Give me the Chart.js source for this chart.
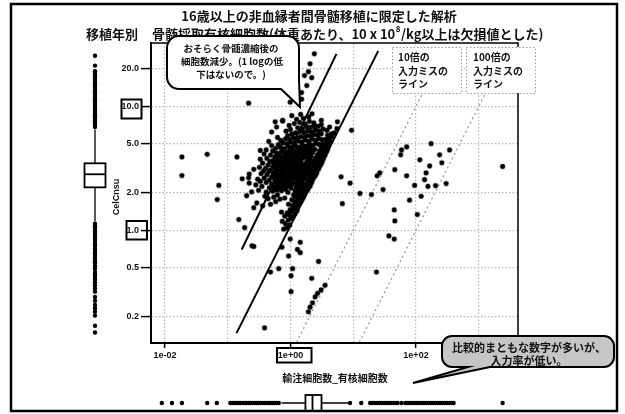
<!DOCTYPE html>
<html>
<head>
<meta charset="utf-8">
<script src="https://cdn.jsdelivr.net/npm/chart.js@4/dist/chart.umd.min.js"></script>
<style>
  html, body { margin: 0; padding: 0; background: #fff; }
  canvas { display: block; }
</style>
</head>
<body>
<canvas id="c" width="625" height="414"></canvas>
<script>
// ---- axis ticks ----
const yTickValues = [20, 10, 5, 2, 1, 0.5, 0.2];
const yTickLabels = ['20.0', '10.0', '5.0', '2.0', '1.0', '0.5', '0.2'];
const xGridValues = [0.01, 0.1, 1, 10, 100, 1000];
const xTickLabels = ['1e-02', '', '1e+00', '', '1e+02', ''];

// ---- 輸注細胞数 (x) vs 採取細胞数 (y), one pair per transplant ----
const cellPairs = [
  // outlying cases
  [0.0186,3.9],[0.0186,2.76],[0.047,4.1],[0.14,3.9],[0.072,2.3],[0.068,1.77],[0.215,10.6],
  [2.4,26.5],[2.05,22],[1.93,19],[1.67,17.7],[2.18,17],[1.82,14.7],[1.5,12.9],[1.16,12.3],
  [0.99,10.8],[1.5,11.4],[0.75,7.7],[0.57,7.5],[3.1,7.7],[5.6,7.5],[9.4,6.4],[6.4,2.7],
  [8.9,2.4],[12.8,1.98],[19.5,1.94],[6.7,1.64],[29.9,2.13],[26.4,2.9],[24,2.75],[45.9,3.08],
  [58.8,4.44],[57,4.06],[71,4.7],[71,2.75],[115,3.7],[174,5.0],[238,4.06],[343,4.44],
  [258,3.5],[165,3.3],[145,2.9],[137,2.56],[95,2.3],[155,2.26],[205,2.29],[302,2.38],
  [121,1.88],[79,1.75],[105,1.34],[45,1.46],[46,1.19],[37,0.9],[45,0.85],[23.4,0.46],
  [2400,3.27],[2.8,0.56],[1.02,0.43],[1.02,0.32],[2.18,0.41],[3.55,0.36],[3.07,0.33],
  [2.7,0.31],[2.47,0.29],[2.24,0.26],[2.05,0.24],[1.93,0.22],[0.386,0.163],[0.243,0.75],
  [0.186,1.05],[0.15,1.22],[0.73,0.73],[0.99,0.85],[1.43,0.66],[0.93,0.62],[1.08,0.49],
  [0.65,0.49],[0.48,0.46],[0.215,2.65],[0.26,0.74],[1.29,0.70],[1.43,0.80],
  // y 1.0 - 1.5
  [0.78,1.02],[0.88,1.05],[0.83,1.13],[0.97,1.1],[0.74,1.18],[0.92,1.21],[1.02,1.24],[0.81,1.3],
  [0.96,1.33],[1.1,1.29],[0.89,1.38],[1.05,1.42],[1.18,1.36],[1.27,1.44],[0.72,1.4],[0.99,1.47],[1.14,1.5],
  // y 1.5 - 2.0
  [1.22,1.55],[1.08,1.58],[1.33,1.6],[0.93,1.62],[1.4,1.66],[1.17,1.68],[1.28,1.73],[1.48,1.72],
  [1.05,1.76],[1.36,1.79],[1.55,1.8],[1.2,1.84],[1.62,1.86],[1.43,1.9],[1.12,1.93],[1.3,1.96],
  [1.68,1.95],[0.48,1.62],[0.36,1.57],[0.58,1.7],[0.29,1.66],[0.44,1.8],[0.54,1.85],[0.68,1.78],
  [0.39,1.88],[0.81,1.82],[0.62,1.93],[0.26,1.52],[0.2,1.9],
  // y 2.0 - 2.5
  [1.5,2.02],[1.74,2.05],[1.33,2.04],[1.86,2.1],[1.18,2.08],[0.91,2.02],[1.58,2.13],[1.4,2.17],
  [1.95,2.2],[1.23,2.22],[1.02,2.19],[1.66,2.26],[1.46,2.3],[2.06,2.28],[1.3,2.33],[1.79,2.36],
  [1.56,2.4],[2.17,2.42],[1.37,2.45],[1.9,2.48],[0.41,2.03],[0.52,2.06],[0.61,2.11],[0.72,2.08],
  [0.82,2.14],[0.31,2.1],[0.24,2.04],[0.46,2.2],[0.56,2.24],[0.66,2.18],[0.76,2.27],[0.87,2.23],
  [0.35,2.26],[0.28,2.32],[0.5,2.36],[0.6,2.41],[0.7,2.38],[0.8,2.44],[0.92,2.4],[1.0,2.47],
  [0.41,2.43],[0.33,2.48],[0.22,2.4],[0.17,2.6],
  // y 2.5 - 3.0
  [1.95,2.52],[2.24,2.55],[1.62,2.58],[2.05,2.63],[2.36,2.66],[1.72,2.69],[1.45,2.64],[2.15,2.74],
  [2.5,2.77],[1.84,2.8],[1.52,2.84],[2.3,2.88],[2.62,2.9],[1.98,2.94],[1.6,2.97],[0.46,2.54],
  [0.56,2.57],[0.64,2.6],[0.74,2.55],[0.85,2.62],[0.95,2.58],[1.1,2.6],[1.24,2.67],[0.38,2.63],
  [0.3,2.58],[0.5,2.7],[0.6,2.74],[0.69,2.69],[0.79,2.77],[0.9,2.72],[1.02,2.79],[1.18,2.76],
  [1.33,2.83],[0.42,2.8],[0.34,2.86],[0.22,2.84],[0.53,2.9],[0.63,2.95],[0.73,2.88],[0.84,2.96],
  [0.97,2.91],[1.12,2.99],[1.27,2.93],[0.45,2.98],[0.37,3.0],
  // y 3.0 - 3.6
  [2.1,3.03],[2.42,3.06],[2.78,3.1],[1.75,3.08],[2.22,3.17],[2.55,3.2],[1.9,3.22],[2.9,3.26],
  [2.35,3.3],[2.68,3.35],[2.02,3.38],[3.05,3.4],[2.5,3.45],[2.84,3.5],[2.18,3.52],[3.2,3.56],
  [0.48,3.05],[0.58,3.09],[0.67,3.04],[0.77,3.12],[0.88,3.07],[1.0,3.15],[1.15,3.1],[1.3,3.18],
  [1.45,3.13],[1.6,3.2],[0.4,3.16],[0.32,3.22],[0.26,3.1],[0.52,3.25],[0.62,3.3],[0.72,3.24],
  [0.82,3.33],[0.94,3.28],[1.07,3.36],[1.22,3.31],[1.38,3.39],[1.54,3.34],[1.7,3.42],[0.44,3.36],
  [0.55,3.46],[0.65,3.41],[0.76,3.5],[0.87,3.44],[0.99,3.53],[1.13,3.48],[1.29,3.56],[1.46,3.51],
  [1.82,3.58],[0.36,3.48],[0.47,3.57],
  // y 3.6 - 4.5
  [2.35,3.62],[2.65,3.68],[3.0,3.72],[3.35,3.78],[2.5,3.84],[2.85,3.9],[3.2,3.95],[3.55,4.02],
  [2.7,4.08],[3.05,4.15],[3.4,4.22],[3.75,4.3],[2.9,4.36],[3.3,4.42],[3.9,4.5],[0.52,3.64],
  [0.61,3.7],[0.71,3.66],[0.8,3.75],[0.91,3.68],[1.03,3.8],[1.17,3.73],[1.33,3.84],[1.5,3.77],
  [1.68,3.88],[1.9,3.82],[2.1,3.93],[0.42,3.8],[0.33,3.74],[0.56,3.9],[0.66,3.97],[0.77,3.92],
  [0.87,4.02],[0.98,3.96],[1.11,4.07],[1.25,4.0],[1.41,4.12],[1.58,4.05],[1.78,4.17],[2.0,4.1],
  [2.25,4.22],[0.48,4.04],[0.38,4.12],[0.6,4.18],[0.71,4.27],[0.82,4.21],[0.94,4.33],[1.06,4.26],
  [1.2,4.38],[1.36,4.3],[1.53,4.44],[1.72,4.36],[1.94,4.48],[2.18,4.4],[2.45,4.5],[0.52,4.36],
  [0.41,4.45],[0.33,4.4],
  // y 4.5 - 6.0
  [3.1,4.6],[3.55,4.72],[4.0,4.85],[3.3,4.95],[3.8,5.1],[4.3,5.25],[3.6,5.4],[4.1,5.55],
  [4.6,5.7],[3.9,5.85],[0.58,4.58],[0.69,4.66],[0.8,4.55],[0.92,4.74],[1.05,4.62],[1.2,4.8],
  [1.37,4.68],[1.55,4.88],[1.76,4.76],[2.0,4.96],[2.26,4.84],[2.55,5.02],[2.85,4.92],[0.64,4.9],
  [0.5,4.82],[0.75,5.05],[0.87,4.98],[1.0,5.15],[1.15,5.07],[1.32,5.25],[1.5,5.14],[1.7,5.33],
  [1.94,5.22],[2.2,5.42],[2.5,5.3],[2.8,5.5],[3.15,5.38],[0.7,5.3],[0.83,5.46],[0.97,5.38],
  [1.1,5.58],[1.27,5.5],[1.45,5.7],[1.66,5.62],[1.88,5.8],[2.14,5.72],[2.42,5.92],[2.75,5.84],
  [3.1,6.0],[0.62,5.6],[0.9,5.8],[1.05,5.95],
  // y 6.0 - 9.0
  [1.2,6.1],[1.42,6.25],[1.64,6.12],[1.88,6.35],[2.15,6.2],[2.48,6.45],[2.85,6.3],[3.3,6.55],
  [3.8,6.4],[0.85,6.3],[1.0,6.5],[1.3,6.7],[1.55,6.6],[1.8,6.85],[2.1,6.75],[2.4,7.0],
  [2.75,6.9],[3.1,7.1],[0.95,7.0],[1.15,7.25],[1.4,7.4],[1.7,7.2],[2.0,7.55],[2.35,7.35],
  [0.75,7.6],[1.25,7.85],[1.6,8.0],[1.95,8.2],[1.05,8.4],[1.45,8.6],[2.2,8.7],[0.6,6.8],
  [0.5,6.2],[0.45,5.2],[4.5,6.0],[4.2,6.8],[5.0,6.1],[5.5,6.6],
  // dense core
  [0.53,2.15],[0.63,2.29],[0.73,2.21],[0.84,2.33],[0.95,2.28],[1.08,2.36],[1.2,2.41],[0.57,2.5],
  [0.68,2.47],[0.78,2.64],[0.88,2.51],[1.0,2.68],[1.15,2.7],[1.3,2.55],[0.55,2.82],[0.66,2.86],
  [0.77,2.99],[0.91,3.0],[1.05,2.86],[1.2,2.9],[1.38,2.98],[0.6,3.18],[0.7,3.37],[0.8,3.2],
  [0.92,3.42],[1.04,3.22],[1.18,3.42],[1.35,3.25],[0.63,3.57],[0.74,3.8],[0.85,3.6],[0.96,3.85],
  [1.1,3.6],[1.27,3.95],[1.45,3.65],[1.62,3.98],[0.66,4.1],[0.77,4.45],[0.9,4.15],[1.02,4.5],
  [1.16,4.18],[1.31,4.55],[1.47,4.2],[1.65,4.6],[1.85,4.25],[2.05,4.65],[1.62,3.02],[1.76,3.3],
  [1.93,3.55],[2.08,3.7],[1.55,2.62],[1.7,2.9],[1.85,3.12]
];

// ---- reference lines (x, y end points) ----
const lineLoss = [[0.167, 0.70], [5.4, 26.5]];     // 採取後の細胞数減少
const lineEqual = [[0.138, 0.148], [25, 28]];      // 輸注 = 採取
const line10x = [[1.25, 0.125], [128, 12.8]];      // 10倍の入力ミス
const line100x = [[12.5, 0.125], [1280, 12.8]];    // 100倍の入力ミス

// ---- marginal box plots: [lower whisker, Q1, median, Q3, upper whisker] ----
const yBox = [1.18, 2.22, 2.83, 3.47, 6.5];
const yOutliers = [6.8, 7.1, 7.4, 7.7, 8.0, 8.3, 8.6, 9.0, 9.3, 9.7, 10.1, 10.5, 10.9, 11.4,
  11.9, 12.4, 12.9, 13.5, 14.1, 14.7, 15.3, 16.0, 16.7, 17.5, 18.3, 19.2, 21.3, 25.6,
  1.13, 1.08, 1.03, 0.98, 0.94, 0.9, 0.86, 0.82, 0.78, 0.75, 0.71, 0.68, 0.65, 0.62, 0.59,
  0.56, 0.54, 0.51, 0.49, 0.46, 0.44, 0.42, 0.40, 0.38, 0.36, 0.34, 0.32, 0.29, 0.27,
  0.25, 0.235, 0.22, 0.205, 0.17, 0.15];
const xBox = [0.72, 1.73, 2.24, 3.12, 8.4];
const xOutliers = [0.0089, 0.0129, 0.0186, 0.047, 0.067,
  0.11, 0.12, 0.13, 0.14, 0.15, 0.16, 0.175, 0.19, 0.2, 0.215, 0.23, 0.25, 0.27, 0.29, 0.31,
  0.33, 0.36, 0.39, 0.42, 0.45, 0.48, 0.52, 0.56, 0.6, 0.65,
  8.9, 13.4, 18.6, 20, 22, 24, 26, 28, 31, 34, 37, 40, 44, 48, 51, 59,
  68, 74, 80, 87, 95, 103, 112, 122, 133, 145, 158, 172, 187, 204, 222, 242, 263, 287,
  312, 340, 370, 398, 2400];

const LATIN = '"Liberation Sans", "Noto Sans CJK JP", sans-serif';
const JP = '"Noto Sans CJK JP", "Liberation Sans", sans-serif';

const toXY = arr => arr.map(([x, y]) => ({ x, y }));

function roundedBubble(ctx, pts) {
  ctx.beginPath();
  ctx.moveTo(pts[0][0], pts[0][1]);
  for (let i = 1; i < pts.length; i++) {
    const p = pts[i];
    if (p.length === 5) ctx.arcTo(p[0], p[1], p[2], p[3], p[4]);
    else ctx.lineTo(p[0], p[1]);
  }
  ctx.closePath();
}

const decor = {
  id: 'decor',
  beforeDraw(chart) {
    const ctx = chart.ctx;
    ctx.save();
    ctx.fillStyle = '#fff';
    ctx.fillRect(0, 0, chart.width, chart.height);
    ctx.restore();
  },
  afterDraw(chart) {
    const ctx = chart.ctx;
    const xs = chart.scales.x, ys = chart.scales.y;
    const a = chart.chartArea;
    ctx.save();

    // plot frame
    ctx.strokeStyle = '#000';
    ctx.lineWidth = 1.5;
    ctx.strokeRect(a.left, a.top, a.right - a.left, a.bottom - a.top);

    // left box plot (y distribution)
    const cx = 95, hw = 10.5;
    const py = v => ys.getPixelForValue(v);
    ctx.strokeStyle = '#000';
    ctx.lineWidth = 1.3;
    ctx.beginPath();
    ctx.moveTo(cx, py(yBox[0])); ctx.lineTo(cx, py(yBox[1]));
    ctx.moveTo(cx, py(yBox[3])); ctx.lineTo(cx, py(yBox[4]));
    ctx.stroke();
    ctx.fillStyle = '#fff';
    ctx.lineWidth = 1.8;
    ctx.fillRect(cx - hw, py(yBox[3]), 2 * hw, py(yBox[1]) - py(yBox[3]));
    ctx.strokeRect(cx - hw, py(yBox[3]), 2 * hw, py(yBox[1]) - py(yBox[3]));
    ctx.beginPath();
    ctx.moveTo(cx - hw, py(yBox[2])); ctx.lineTo(cx + hw, py(yBox[2]));
    ctx.stroke();
    ctx.fillStyle = '#000';
    yOutliers.forEach(v => { ctx.beginPath(); ctx.arc(cx, py(v), 2.2, 0, Math.PI * 2); ctx.fill(); });

    // bottom box plot (x distribution)
    const cy = 403, hh = 8;
    const px = v => xs.getPixelForValue(v);
    ctx.lineWidth = 1.3;
    ctx.beginPath();
    ctx.moveTo(px(xBox[0]), cy); ctx.lineTo(px(xBox[1]), cy);
    ctx.moveTo(px(xBox[3]), cy); ctx.lineTo(px(xBox[4]), cy);
    ctx.stroke();
    ctx.fillStyle = '#fff';
    ctx.lineWidth = 1.8;
    ctx.fillRect(px(xBox[1]), cy - hh, px(xBox[3]) - px(xBox[1]), 2 * hh);
    ctx.strokeRect(px(xBox[1]), cy - hh, px(xBox[3]) - px(xBox[1]), 2 * hh);
    ctx.beginPath();
    ctx.moveTo(px(xBox[2]), cy - hh); ctx.lineTo(px(xBox[2]), cy + hh);
    ctx.stroke();
    ctx.fillStyle = '#000';
    xOutliers.forEach(v => { ctx.beginPath(); ctx.arc(px(v), cy, 2.2, 0, Math.PI * 2); ctx.fill(); });

    // titles
    ctx.fillStyle = '#111';
    ctx.textBaseline = 'middle';
    ctx.textAlign = 'center';
    ctx.font = 'bold 13px ' + JP;
    ctx.fillText('16歳以上の非血縁者間骨髄移植に限定した解析', 319, 16);
    ctx.textAlign = 'left';
    ctx.fillText('移植年別', 86, 34);
    let tx = 152;
    const part1 = '骨髄採取有核細胞数(体重あたり、10 x 10';
    ctx.fillText(part1, tx, 34);
    tx += ctx.measureText(part1).width;
    ctx.font = 'bold 8px ' + JP;
    ctx.fillText('8', tx + 0.5, 29);
    tx += ctx.measureText('8').width + 1;
    ctx.font = 'bold 13px ' + JP;
    ctx.fillText('/kg以上は欠損値とした)', tx, 34);

    // axis titles
    ctx.font = 'bold 10px ' + JP;
    ctx.textAlign = 'center';
    ctx.fillText('輸注細胞数_有核細胞数', 335, 378);
    ctx.save();
    ctx.translate(117, 197);
    ctx.rotate(-Math.PI / 2);
    ctx.font = 'bold 9px ' + LATIN;
    ctx.fillText('CelCnsu', 0, 0);
    ctx.restore();

    // highlight frames round tick labels
    ctx.strokeStyle = '#000';
    ctx.lineWidth = 2;
    ctx.strokeRect(121.5, 99.5, 20, 19);
    ctx.strokeRect(126.5, 221, 20.5, 18.5);
    ctx.strokeRect(277, 348, 34.5, 14.5);

    // note bubble (upper left)
    ctx.fillStyle = '#fff';
    ctx.lineWidth = 2;
    roundedBubble(ctx, [
      [179, 36], [287, 36], [299, 36, 299, 48, 12], [299, 80], [300, 107], [281, 89],
      [179, 89], [167, 89, 167, 77, 12], [167, 48], [167, 36, 179, 36, 12]
    ]);
    ctx.fill(); ctx.stroke();
    ctx.fillStyle = '#111';
    ctx.font = 'bold 9.5px ' + JP;
    ctx.textAlign = 'center';
    ctx.fillText('おそらく骨髄濃縮後の', 231, 48);
    ctx.fillText('細胞数減少。(1 logの低', 232, 61);
    ctx.fillText('下はないので。)', 231, 74);

    // line captions
    ctx.setLineDash([1.5, 2]);
    ctx.strokeStyle = '#9a9a9a';
    ctx.lineWidth = 1;
    ctx.fillStyle = '#fff';
    [392, 466].forEach(bx => {
      ctx.fillRect(bx, 47, 69, 46);
      ctx.strokeRect(bx + 0.5, 47.5, 69, 46);
    });
    ctx.setLineDash([]);
    ctx.fillStyle = '#111';
    ctx.font = 'bold 10px ' + JP;
    ctx.textAlign = 'left';
    [[398, '10倍の'], [473, '100倍の']].forEach(([bx, first]) => {
      ctx.fillText(first, bx, 57);
      ctx.fillText('入力ミスの', bx, 71);
      ctx.fillText('ライン', bx, 84);
    });

    // note bubble (lower right)
    ctx.fillStyle = '#c6c6c6';
    ctx.strokeStyle = '#000';
    ctx.lineWidth = 2;
    roundedBubble(ctx, [
      [452, 336], [604, 336], [614, 336, 614, 346, 10], [614, 357], [614, 367, 604, 367, 10],
      [490, 367], [413, 383], [468, 367], [452, 367], [442, 367, 442, 357, 10], [442, 346],
      [442, 336, 452, 336, 10]
    ]);
    ctx.fill(); ctx.stroke();
    ctx.fillStyle = '#111';
    ctx.font = 'bold 11px ' + JP;
    ctx.textAlign = 'center';
    ctx.fillText('比較的まともな数字が多いが、', 529, 348);
    ctx.fillText('入力率が低い。', 529, 361);

    // outer frame
    ctx.lineWidth = 2.5;
    ctx.strokeStyle = '#000';
    ctx.strokeRect(11, 4, 606, 407);
    ctx.restore();
  }
};

new Chart(document.getElementById('c'), {
  type: 'scatter',
  data: {
    datasets: [
      { label: '10倍', data: toXY(line10x), showLine: true, borderColor: '#9a9a9a', borderWidth: 1.3,
        borderDash: [2, 3], pointRadius: 0, order: 3 },
      { label: '100倍', data: toXY(line100x), showLine: true, borderColor: '#9a9a9a', borderWidth: 1.3,
        borderDash: [2, 3], pointRadius: 0, order: 3 },
      { label: 'CelCnsu', data: toXY(cellPairs), pointRadius: 2.4, pointBackgroundColor: '#000',
        pointBorderColor: 'rgba(0,0,0,0.28)', pointBorderWidth: 1.4, order: 2 },
      { label: 'loss', data: toXY(lineLoss), showLine: true, borderColor: '#000', borderWidth: 2,
        pointRadius: 0, order: 1 },
      { label: 'equal', data: toXY(lineEqual), showLine: true, borderColor: '#000', borderWidth: 2,
        pointRadius: 0, order: 1 }
    ]
  },
  options: {
    responsive: false,
    animation: false,
    devicePixelRatio: 1,
    events: [],
    layout: { padding: { left: 0, top: 43, right: 107, bottom: 0 } },
    plugins: { legend: { display: false }, tooltip: { enabled: false } },
    scales: {
      x: {
        type: 'logarithmic',
        min: 0.00598,
        max: 4222,
        afterFit: s => { s.height = 71; },
        afterBuildTicks: s => { s.ticks = xGridValues.map(v => ({ value: v })); },
        ticks: {
          callback: (v, i) => xTickLabels[i],
          autoSkip: false, maxRotation: 0, padding: 2, color: '#111',
          font: { family: LATIN, size: 9, weight: 'bold' }
        },
        grid: {
          color: '#b8b8b8', lineWidth: 1.2, tickLength: 5, tickWidth: 1.5,
          tickColor: c => (xTickLabels[c.index] ? '#000' : 'rgba(0,0,0,0)')
        },
        border: { color: '#000', width: 2, dash: [1.5, 2] }
      },
      y: {
        type: 'logarithmic',
        min: 0.1233,
        max: 32.4,
        afterFit: s => { s.width = 151; },
        afterBuildTicks: s => { s.ticks = yTickValues.map(v => ({ value: v })); },
        ticks: {
          callback: (v, i) => yTickLabels[i],
          autoSkip: false, padding: 2, color: '#111',
          font: { family: LATIN, size: 9, weight: 'bold' }
        },
        grid: { color: '#b8b8b8', lineWidth: 1.2, tickLength: 10, tickWidth: 1.5, tickColor: '#000' },
        border: { color: '#000', width: 2, dash: [1.5, 2] }
      }
    }
  },
  plugins: [decor]
});
</script>
</body>
</html>
